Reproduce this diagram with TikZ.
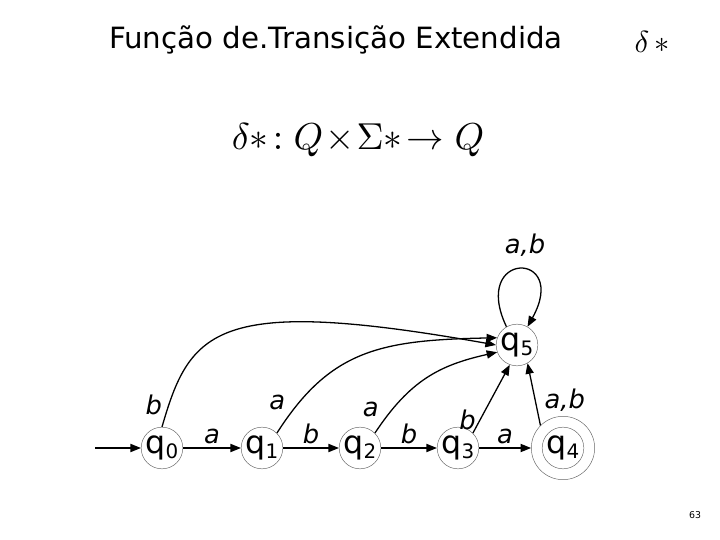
\documentclass[tikz,border=0pt]{standalone}
\usepackage{fontspec}
\setmainfont{DejaVu Sans}
\usetikzlibrary{arrows.meta}
\newcommand{\qs}[1]{q\raisebox{-0.3ex}{\fontsize{17}{17}\selectfont #1}}
\begin{document}
\begin{tikzpicture}[x=0.03cm,y=-0.03cm,
 st/.style={circle,draw=black!60,thin,minimum size=1.25cm,inner sep=0pt,font=\fontsize{27}{27}\selectfont},
 ed/.style={-{Triangle[length=9pt,width=7pt]},line width=1.1pt},
 lb/.style={font=\fontsize{22}{22}\selectfont\itshape}]
\useasboundingbox (0,0) rectangle (720,540);
\node[anchor=west,font=\fontsize{25}{25}\selectfont] (title) at (105,40) {Função de.Transição Extendida};
\node (delta) at (652,42) {\scalebox{2.6}{$\delta\,{*}$}};
\node (formula) at (358,140) {\scalebox{3.2}{$\delta{*}\!:Q\!\times\!\Sigma{*}\!\to Q$}};
\node[st] (q0) at (162,448) {\qs{0}};
\node[st] (q1) at (262,448) {\qs{1}};
\node[st] (q2) at (360,448) {\qs{2}};
\node[st] (q3) at (458,448) {\qs{3}};
\node[st,minimum size=1.9cm] (q4) at (563,448) {};
\node[st] (q4i) at (563,448) {\qs{4}};
\node[st] (q5) at (517,345) {\qs{5}};
\coordinate (start) at (95,448);
\node[font=\footnotesize] (pg) at (695,515) {63};
\draw[ed] (start) -- (q0);
\draw[ed] (q0) -- node[lb,above]{a} (q1);
\draw[ed] (q1) -- node[lb,above]{b} (q2);
\draw[ed] (q2) -- node[lb,above]{b} (q3);
\draw[ed] (q3) -- node[lb,above]{a} (q4);
\draw[ed] (q0.north) .. controls (190,330) and (215,295) .. node[lb,pos=0.08,left=2pt]{b} (q5.west);
\draw[ed] (q1.north east) .. controls (330,350) and (380,340) .. node[lb,pos=0.08,above left]{a} (q5.160);
\draw[ed] (q2.north east) .. controls (410,380) and (440,365) .. node[lb,pos=0.08,above left]{a} (q5.200);
\draw[ed] (q3.north east) -- node[lb,pos=0.2,left]{b} (q5.250);
\draw[ed] (q4.north west) -- node[lb,right=4pt,pos=0.4]{a,b} (q5.300);
\draw[ed] (q5.120) .. controls (470,250) and (570,250) .. (q5.60);
\node[lb] (loopl) at (525,245) {a,b};
\end{tikzpicture}
\end{document}
